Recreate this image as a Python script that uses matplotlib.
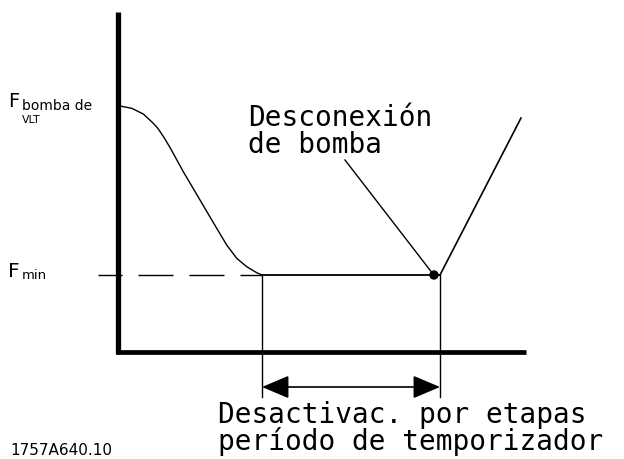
import matplotlib
matplotlib.use("Agg")
import matplotlib.pyplot as plt
from matplotlib.patches import FancyArrowPatch, Circle

W, H = 624, 459

# Curve (pixel-space diagram coordinates: x right, y down)
curve_x = [120, 131.7, 143.3, 153.3, 158, 164, 170, 183.3, 200, 216.7, 226.7, 236.7, 246.7, 256.7, 262]
curve_y = [106, 108.3, 114, 123.3, 128.5, 137.5, 147.5, 171.7, 200, 228.3, 245, 258.3, 266.7, 272.7, 275]
fmin_y = 275
t_start, t_stop = 262, 440
rise_x = [440, 521]
rise_y = [275, 118]
dot = (434, 275)
leader_x = [345, 433]
leader_y = [160, 274]

label_top = ["Desconexión", "de bomba"]
label_bottom = ["Desactivac. por etapas", "período de temporizador"]
code = "1757A640.10"

fig = plt.figure(figsize=(W / 100, H / 100), dpi=100)
ax = fig.add_axes([0, 0, 1, 1])
ax.set_xlim(0, W)
ax.set_ylim(H, 0)
ax.axis("off")

# axes
ax.plot([117.5, 117.5], [12, 354], color="black", lw=3.8, solid_capstyle="butt")
ax.plot([115.5, 526], [352, 352], color="black", lw=3.4, solid_capstyle="butt")

# dashed Fmin line (dash ~35px, gap ~16px)
ax.plot([98, t_start], [fmin_y, fmin_y], color="black", lw=1.0,
        linestyle=(7.9, (25.2, 11.5)), dash_capstyle="butt")
# curve
ax.plot(curve_x, curve_y, color="black", lw=1.0, solid_joinstyle="round")
# flat segment
ax.plot([t_start, t_stop], [fmin_y, fmin_y], color="black", lw=1.3)
# rising
ax.plot(rise_x, rise_y, color="black", lw=1.2)
# leader
ax.plot(leader_x, leader_y, color="black", lw=1.0)
ax.add_patch(Circle(dot, 4, color="black"))

# verticals
for xv in (t_start, t_stop):
    ax.plot([xv, xv], [fmin_y, 397], color="black", lw=1.0)
# double arrow
arr = FancyArrowPatch((t_start, 387), (t_stop, 387), arrowstyle="<|-|>,head_length=13,head_width=5.5",
                      mutation_scale=1.3, color="black", lw=1.2, shrinkA=0, shrinkB=0)
ax.add_patch(arr)

mono = "DejaVu Sans Mono"
ax.text(248, 126, label_top[0], fontsize=20, family=mono, va="baseline", ha="left")
ax.text(248, 153, label_top[1], fontsize=20, family=mono, va="baseline", ha="left")
ax.text(218, 423, label_bottom[0], fontsize=20, family=mono, va="baseline", ha="left")
ax.text(218, 450, label_bottom[1], fontsize=20, family=mono, va="baseline", ha="left")

ax.text(8, 107, "F", fontsize=14, va="baseline", ha="left")
ax.text(22, 110, "bomba de", fontsize=10, va="baseline", ha="left")
ax.text(22, 123, "VLT", fontsize=7.8, va="baseline", ha="left")
ax.text(8, 277, "F", fontsize=14.5, va="baseline", ha="left")
ax.text(22, 279, "min", fontsize=9.5, va="baseline", ha="left")

ax.text(10, 455, code, fontsize=11, va="baseline", ha="left")

fig.savefig("out.png", dpi=100)
